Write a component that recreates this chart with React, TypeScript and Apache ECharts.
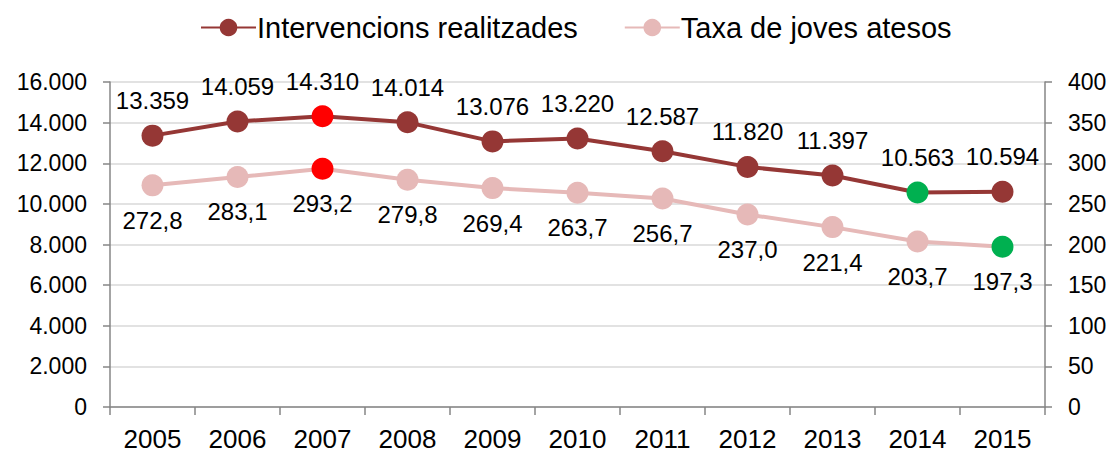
import React, { useEffect, useRef } from "react";
import * as echarts from "echarts";

const years = ["2005", "2006", "2007", "2008", "2009", "2010", "2011", "2012", "2013", "2014", "2015"];
const intervencions = [13359, 14059, 14310, 14014, 13076, 13220, 12587, 11820, 11397, 10563, 10594];
const taxa = [272.8, 283.1, 293.2, 279.8, 269.4, 263.7, 256.7, 237.0, 221.4, 203.7, 197.3];
// highlighted markers: index -> colour
const intervHighlights: Record<number, string> = { 2: "#FF0000", 9: "#00B050" };
const taxaHighlights: Record<number, string> = { 2: "#FF0000", 10: "#00B050" };

const DARK = "#953735";
const LIGHT = "#E6B9B8";
const FONT = "Liberation Sans, Arial, sans-serif";

function thousands(v: number): string {
  return String(Math.round(v)).replace(/\B(?=(\d{3})+(?!\d))/g, ".");
}
function decimalComma(v: number): string {
  return v.toFixed(1).replace(".", ",");
}

export default function App() {
  const ref = useRef<HTMLDivElement>(null);
  useEffect(() => {
    if (!ref.current) return;
    const chart = echarts.init(ref.current, null, { renderer: "svg" });
    const axisGray = "#868686";
    chart.setOption({
      animation: false,
      backgroundColor: "#FFFFFF",
      textStyle: { fontFamily: FONT },
      legend: {
        top: 8,
        left: 195,
        itemWidth: 55,
        itemHeight: 22,
        itemGap: 46,
        textStyle: { fontSize: 29, color: "#000", fontFamily: FONT, padding: [0, 0, 0, -4] },
        data: [
          { name: "Intervencions realitzades", itemStyle: { color: DARK } },
          { name: "Taxa de joves atesos", itemStyle: { color: LIGHT } },
        ],
      },
      grid: { left: 110, right: 72, top: 82, bottom: 54, containLabel: false },
      xAxis: {
        type: "category",
        data: years,
        boundaryGap: true,
        axisLine: { lineStyle: { color: axisGray, width: 1.5 } },
        axisTick: { show: true, length: 8, lineStyle: { color: axisGray, width: 1.5 } },
        axisLabel: { fontSize: 26, color: "#000", margin: 19, fontFamily: FONT },
      },
      yAxis: [
        {
          type: "value",
          min: 0,
          max: 16000,
          interval: 2000,
          axisLine: { show: true, lineStyle: { color: axisGray, width: 1.5 } },
          axisTick: { show: true, length: 7, lineStyle: { color: axisGray, width: 1.5 } },
          axisLabel: { fontSize: 23, color: "#000", margin: 23, formatter: (v: number) => thousands(v), fontFamily: FONT },
          splitLine: { show: true, lineStyle: { color: "#D9D9D9", width: 1.5 } },
        },
        {
          type: "value",
          min: 0,
          max: 400,
          interval: 50,
          position: "right",
          axisLine: { show: true, lineStyle: { color: axisGray, width: 1.5 } },
          axisTick: { show: true, length: 7, lineStyle: { color: axisGray, width: 1.5 } },
          axisLabel: { fontSize: 23, color: "#000", margin: 23, fontFamily: FONT },
          splitLine: { show: false },
        },
      ],
      series: [
        {
          name: "Intervencions realitzades",
          type: "line",
          yAxisIndex: 0,
          symbol: "circle",
          symbolSize: 22,
          lineStyle: { color: DARK, width: 4 },
          itemStyle: { color: DARK },
          label: {
            show: true,
            position: "top",
            distance: 12,
            fontSize: 24,
            color: "#000",
            fontFamily: FONT,
            formatter: (p: any) => thousands(p.value),
          },
          data: intervencions.map((v, i) =>
            intervHighlights[i] ? { value: v, itemStyle: { color: intervHighlights[i] } } : v
          ),
          z: 3,
        },
        {
          name: "Taxa de joves atesos",
          type: "line",
          yAxisIndex: 1,
          symbol: "circle",
          symbolSize: 22,
          lineStyle: { color: LIGHT, width: 4 },
          itemStyle: { color: LIGHT },
          label: {
            show: true,
            position: "bottom",
            distance: 12,
            fontSize: 24,
            color: "#000",
            fontFamily: FONT,
            formatter: (p: any) => decimalComma(p.value),
          },
          data: taxa.map((v, i) =>
            taxaHighlights[i] ? { value: v, itemStyle: { color: taxaHighlights[i] } } : v
          ),
          z: 2,
        },
      ],
    });
    return () => chart.dispose();
  }, []);
  return (
    <div
      ref={ref}
      style={{ position: "absolute", left: 0, top: 0, width: 1117, height: 461, background: "#fff" }}
    />
  );
}
